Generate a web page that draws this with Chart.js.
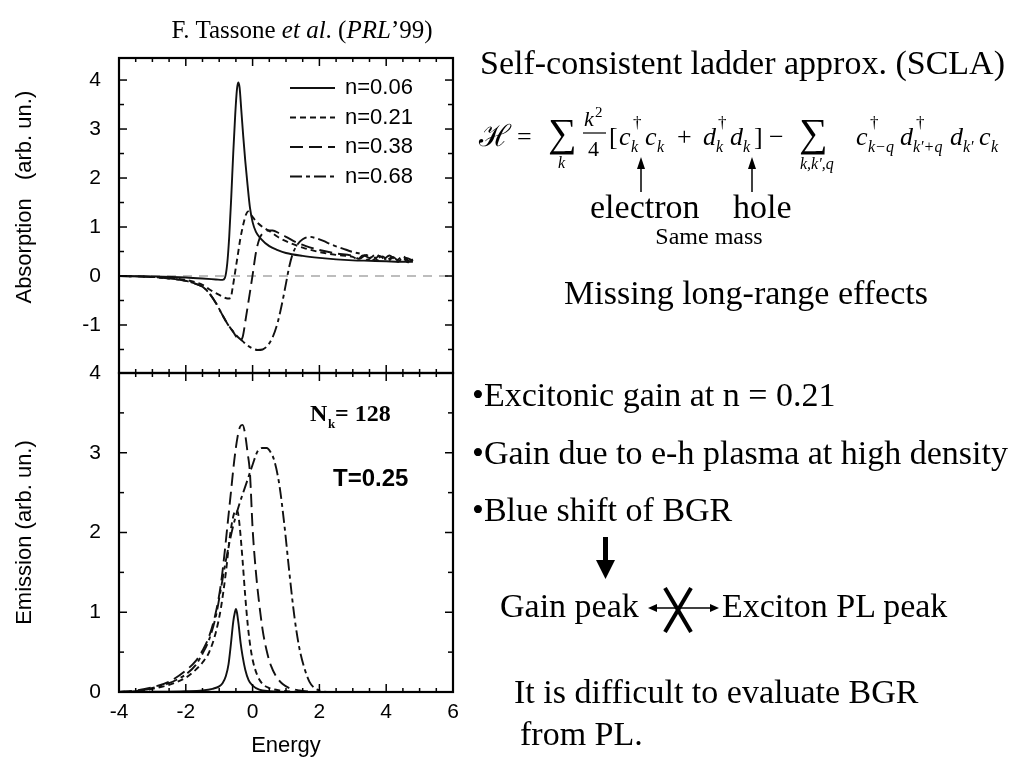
<!DOCTYPE html>
<html><head><meta charset="utf-8">
<script src="https://cdn.jsdelivr.net/npm/chart.js@4.4.0/dist/chart.umd.min.js"></script>
<style>
html,body{margin:0;padding:0;background:#fff;width:1024px;height:768px;overflow:hidden}
#c1{position:absolute;left:0;top:0}
#c2{position:absolute;left:0;top:360px}
svg{position:absolute;left:0;top:0}
</style></head><body>
<canvas id="c1" width="470" height="385"></canvas>
<canvas id="c2" width="470" height="408"></canvas>
<svg width="1024" height="768" xmlns="http://www.w3.org/2000/svg">
<g font-family="'Liberation Serif','Times New Roman',serif" fill="#000">
<text x="302" y="38" font-size="25" text-anchor="middle">F. Tassone <tspan font-style="italic">et al</tspan>. (<tspan font-style="italic">PRL</tspan>’99)</text>
<text x="480" y="74" font-size="34">Self-consistent ladder approx. (SCLA)</text>
<!-- equation -->
<text x="479" y="146" font-size="30">ℋ</text>
<text x="517" y="145" font-size="26">=</text>
<text x="548" y="146" font-size="40">∑</text>
<text x="558" y="168" font-size="16" font-style="italic">k</text>
<text x="584" y="126" font-size="22" font-style="italic">k</text>
<text x="595" y="117" font-size="15">2</text>
<line x1="583" y1="133" x2="606" y2="133" stroke="#000" stroke-width="1.2"/>
<text x="588" y="156" font-size="22">4</text>
<text x="609" y="145" font-size="26">[</text>
<text x="619" y="145" font-size="26" font-style="italic">c</text>
<text x="633" y="128" font-size="17">†</text>
<text x="631" y="152" font-size="16" font-style="italic">k</text>
<text x="645" y="145" font-size="26" font-style="italic">c</text>
<text x="657" y="152" font-size="16" font-style="italic">k</text>
<text x="677" y="145" font-size="26">+</text>
<text x="703" y="145" font-size="26" font-style="italic">d</text>
<text x="718" y="128" font-size="17">†</text>
<text x="716" y="152" font-size="16" font-style="italic">k</text>
<text x="730" y="145" font-size="26" font-style="italic">d</text>
<text x="743" y="152" font-size="16" font-style="italic">k</text>
<text x="754" y="145" font-size="26">]</text>
<text x="769" y="145" font-size="26">−</text>
<text x="799" y="146" font-size="40">∑</text>
<text x="800" y="169" font-size="16" font-style="italic">k,k′,q</text>
<text x="856" y="145" font-size="26" font-style="italic">c</text>
<text x="870" y="128" font-size="17">†</text>
<text x="868" y="152" font-size="16" font-style="italic">k−q</text>
<text x="900" y="145" font-size="26" font-style="italic">d</text>
<text x="916" y="128" font-size="17">†</text>
<text x="913" y="152" font-size="16" font-style="italic">k′+q</text>
<text x="950" y="145" font-size="26" font-style="italic">d</text>
<text x="963" y="152" font-size="16" font-style="italic">k′</text>
<text x="979" y="145" font-size="26" font-style="italic">c</text>
<text x="991" y="152" font-size="16" font-style="italic">k</text>
<line x1="641" y1="192" x2="641" y2="166" stroke="#000" stroke-width="1.5"/>
<polygon points="641,157 637,169 645,169"/>
<line x1="752" y1="192" x2="752" y2="166" stroke="#000" stroke-width="1.5"/>
<polygon points="752,157 748,169 756,169"/>
<text x="590" y="218" font-size="34">electron</text>
<text x="733" y="218" font-size="34">hole</text>
<text x="709" y="244" font-size="24" text-anchor="middle">Same mass</text>
<text x="746" y="304" font-size="34" text-anchor="middle">Missing long-range effects</text>
<text x="472" y="406" font-size="34">•Excitonic gain at n = 0.21</text>
<text x="472" y="464" font-size="34">•Gain due to e-h plasma at high density</text>
<text x="472" y="521" font-size="34">•Blue shift of BGR</text>
<rect x="603" y="537" width="5" height="24"/>
<polygon points="596,560 615,560 605.5,579"/>
<text x="500" y="617" font-size="34">Gain peak</text>
<line x1="655" y1="608" x2="712" y2="608" stroke="#000" stroke-width="1.5"/>
<polygon points="648,608 657,604 657,612"/>
<polygon points="719,608 710,604 710,612"/>
<line x1="665" y1="588" x2="691" y2="632" stroke="#000" stroke-width="4"/>
<line x1="691" y1="588" x2="665" y2="632" stroke="#000" stroke-width="4"/>
<text x="722" y="617" font-size="34">Exciton PL peak</text>
<text x="514" y="703" font-size="34">It is difficult to evaluate BGR</text>
<text x="520" y="745" font-size="34">from PL.</text>
<text x="310" y="421" font-size="24" font-weight="bold">N</text>
<text x="328" y="428" font-size="13" font-weight="bold">k</text>
<text x="335" y="421" font-size="24" font-weight="bold">= 128</text>
</g>
<text x="333" y="486" font-family="'Liberation Sans',Arial,sans-serif" font-size="24" font-weight="bold">T=0.25</text>
</svg>
<script>
// ---------- data ----------
const seriesLabels = ['n=0.06', 'n=0.21', 'n=0.38', 'n=0.68'];
const energyTicks = [-4, -2, 0, 2, 4, 6];
const absTicks = [-1, 0, 1, 2, 3, 4];
const emiTicks = [0, 1, 2, 3, 4];

// Absorption
const absX1 = [-4,-3,-2,-1.5,-1.1,-0.9,-0.83,-0.76,-0.7,-0.64,-0.58,-0.52,-0.47,-0.43,-0.39,-0.34,-0.28,-0.22,-0.15,-0.08,0,0.1,0.25,0.5,0.75,1,1.5,2,2.5,3,3.5,4,4.4,4.8];
const absY1 = [0,-0.01,-0.03,-0.05,-0.07,-0.08,-0.04,0.25,0.8,1.6,2.5,3.3,3.8,3.95,3.85,3.4,2.85,2.35,1.85,1.4,1.1,0.9,0.76,0.61,0.53,0.47,0.41,0.37,0.34,0.32,0.31,0.3,0.29,0.29];

const absX2 = [-4,-3,-2.5,-2,-1.7,-1.5,-1.3,-1.1,-0.9,-0.75,-0.66,-0.6,-0.53,-0.45,-0.37,-0.28,-0.2,-0.13,-0.05,0.1,0.3,0.5,0.75,1,1.5,2,2.5,3,3.15,3.3,3.45,3.6,3.75,3.9,4.05,4.2,4.35,4.5,4.65,4.8];
const absY2 = [0,-0.02,-0.04,-0.08,-0.13,-0.18,-0.27,-0.35,-0.42,-0.46,-0.45,-0.25,0.05,0.4,0.75,1.05,1.25,1.32,1.25,1.12,1.0,0.92,0.8,0.71,0.58,0.49,0.43,0.39,0.34,0.42,0.33,0.41,0.32,0.40,0.30,0.38,0.29,0.37,0.28,0.33];

const absX3 = [-4,-3,-2.5,-2,-1.7,-1.5,-1.3,-1.1,-0.9,-0.75,-0.6,-0.48,-0.38,-0.3,-0.2,-0.1,0,0.1,0.2,0.3,0.45,0.6,0.8,1,1.3,1.6,2,2.5,3,3.2,3.4,3.6,3.8,4.0,4.2,4.4,4.6,4.8];
const absY3 = [0,-0.02,-0.05,-0.1,-0.16,-0.22,-0.35,-0.55,-0.8,-0.98,-1.12,-1.25,-1.31,-1.25,-0.85,-0.42,0.02,0.48,0.75,0.87,0.93,0.93,0.87,0.8,0.69,0.61,0.53,0.46,0.41,0.35,0.43,0.33,0.41,0.32,0.39,0.29,0.37,0.31];

const absX4 = [-4,-3,-2.5,-2,-1.7,-1.5,-1.3,-1.1,-0.9,-0.75,-0.6,-0.45,-0.3,-0.15,0,0.15,0.3,0.45,0.6,0.75,0.9,1.0,1.1,1.2,1.35,1.5,1.7,1.9,2.1,2.4,2.7,3.0,3.3,3.5,3.7,3.9,4.1,4.3,4.5,4.7,4.8];
const absY4 = [0,-0.02,-0.05,-0.1,-0.16,-0.22,-0.35,-0.55,-0.8,-0.98,-1.12,-1.24,-1.33,-1.42,-1.48,-1.51,-1.5,-1.42,-1.25,-0.95,-0.5,-0.15,0.2,0.45,0.65,0.75,0.8,0.77,0.72,0.63,0.56,0.49,0.44,0.37,0.44,0.34,0.42,0.32,0.40,0.30,0.34];

const zeroX = [-4, 6];
const zeroY = [0, 0];

// Emission
const emiX1 = [-4,-3,-2,-1.5,-1.2,-1.0,-0.9,-0.8,-0.72,-0.65,-0.58,-0.53,-0.5,-0.47,-0.42,-0.36,-0.3,-0.22,-0.12,0,0.2,0.5,1,2];
const emiY1 = [0,0.003,0.01,0.02,0.04,0.07,0.11,0.2,0.35,0.6,0.88,1.0,1.04,1.0,0.85,0.62,0.45,0.28,0.15,0.08,0.03,0.01,0,0];

const emiX2 = [-4,-3.5,-3,-2.5,-2,-1.7,-1.5,-1.3,-1.1,-0.95,-0.8,-0.68,-0.58,-0.5,-0.44,-0.38,-0.3,-0.22,-0.14,-0.06,0.02,0.15,0.3,0.5,0.8,1.2,1.6];
const emiY2 = [0,0.01,0.04,0.09,0.18,0.28,0.37,0.5,0.75,1.05,1.5,1.95,2.2,2.28,2.25,2.05,1.65,1.2,0.82,0.55,0.37,0.2,0.1,0.05,0.02,0.005,0];

const emiX3 = [-4,-3.5,-3,-2.5,-2,-1.7,-1.5,-1.3,-1.1,-0.95,-0.85,-0.75,-0.65,-0.55,-0.45,-0.37,-0.3,-0.23,-0.15,-0.08,0,0.1,0.2,0.3,0.42,0.55,0.7,0.9,1.1,1.4,1.8];
const emiY3 = [0,0.02,0.06,0.13,0.27,0.39,0.52,0.7,1.0,1.35,1.7,2.1,2.5,2.9,3.2,3.33,3.35,3.25,3.0,2.75,2.05,1.5,1.1,0.78,0.52,0.33,0.2,0.1,0.05,0.02,0];

const emiX4 = [-4,-3.5,-3,-2.5,-2.2,-2,-1.7,-1.5,-1.3,-1.1,-1.0,-0.8,-0.6,-0.4,-0.2,0,0.15,0.3,0.42,0.55,0.65,0.8,0.95,1.1,1.25,1.4,1.55,1.7,1.85,2.0,2.3,2.6];
const emiY4 = [0,0.01,0.05,0.11,0.17,0.22,0.34,0.48,0.66,0.95,1.17,1.65,2.05,2.35,2.6,2.85,3.02,3.06,3.06,3.0,2.9,2.6,2.1,1.5,0.95,0.55,0.3,0.13,0.05,0.02,0,0];

// ---------- styles ----------
const dashes = [[], [6, 4], [13, 6], [12, 4, 4, 4]];
const SANS = "'Liberation Sans', Arial, sans-serif";

function pts(xs, ys) { return xs.map((v, i) => ({ x: v, y: ys[i] })); }
function curve(label, xs, ys, i) {
  return { label, data: pts(xs, ys), showLine: true, pointRadius: 0, borderColor: '#111',
    borderWidth: 1.9, borderDash: dashes[i], cubicInterpolationMode: 'monotone', fill: false };
}
function noPad(s) { s.paddingTop = 0; s.paddingBottom = 0; s.paddingLeft = 0; s.paddingRight = 0; }

const framePlugin = {
  id: 'frame',
  afterDatasetsDraw(chart) {
    const { ctx, chartArea: a, scales: { x, y } } = chart;
    ctx.save();
    ctx.strokeStyle = '#000';
    ctx.lineCap = 'butt';
    const ln = (x1, y1, x2, y2) => { ctx.beginPath(); ctx.moveTo(x1, y1); ctx.lineTo(x2, y2); ctx.stroke(); };
    ctx.lineWidth = 1.5;
    for (let k = Math.ceil(x.min * 2); k <= Math.floor(x.max * 2 + 1e-9); k++) {
      const v = k / 2, px = x.getPixelForValue(v);
      const L = (k % 4 === 0) ? 8 : 4;
      ln(px, a.bottom, px, a.bottom - L);
      ln(px, a.top, px, a.top + L);
    }
    for (let k = Math.ceil(y.min * 2 - 1e-9); k <= Math.floor(y.max * 2 + 1e-9); k++) {
      const v = k / 2, py = y.getPixelForValue(v);
      const L = (k % 2 === 0) ? 8 : 5;
      ln(a.left, py, a.left + L, py);
      ln(a.right, py, a.right - L, py);
    }
    ctx.lineWidth = 2.2;
    ctx.strokeRect(a.left, a.top, a.right - a.left, a.bottom - a.top);
    ctx.restore();
  }
};

const legendPlugin = {
  id: 'inlegend',
  afterDatasetsDraw(chart) {
    const { ctx, chartArea: a } = chart;
    ctx.save();
    ctx.font = '22px ' + SANS;
    ctx.fillStyle = '#000';
    ctx.textBaseline = 'middle';
    seriesLabels.forEach((lab, i) => {
      const ds = chart.data.datasets[i];
      const yy = a.top + 30 + i * 29.5;
      ctx.strokeStyle = ds.borderColor;
      ctx.lineWidth = ds.borderWidth;
      ctx.setLineDash(ds.borderDash);
      ctx.beginPath(); ctx.moveTo(a.left + 171, yy); ctx.lineTo(a.left + 216, yy); ctx.stroke();
      ctx.setLineDash([]);
      ctx.fillText(lab, a.left + 226, yy);
    });
    ctx.restore();
  }
};

const yTitleFont = { family: SANS, size: 22 };
const tickFont = { family: SANS, size: 21 };

new Chart(document.getElementById('c1'), {
  type: 'scatter',
  data: {
    datasets: [
      curve(seriesLabels[0], absX1, absY1, 0),
      curve(seriesLabels[1], absX2, absY2, 1),
      curve(seriesLabels[2], absX3, absY3, 2),
      curve(seriesLabels[3], absX4, absY4, 3),
      { label: 'zero', data: pts(zeroX, zeroY), showLine: true, pointRadius: 0, borderColor: '#a8a8a8', borderWidth: 1.5, borderDash: [9, 7] }
    ]
  },
  options: {
    responsive: false, animation: false, devicePixelRatio: 1,
    layout: { padding: { left: 0, top: 58, right: 17, bottom: 12 } },
    plugins: { legend: { display: false }, tooltip: { enabled: false } },
    scales: {
      x: { type: 'linear', min: -4, max: 6, display: false, afterFit: noPad },
      y: {
        type: 'linear', min: -1.98, max: 4.45,
        afterFit(s) { s.width = 119; noPad(s); },
        afterBuildTicks(s) { s.ticks = absTicks.map(v => ({ value: v })); },
        grid: { display: false, drawTicks: false }, border: { display: false },
        ticks: { font: tickFont, color: '#000', padding: 18 },
        title: { display: true, text: '      Absorption   (arb. un.)', font: yTitleFont, color: '#000', padding: { top: 12, bottom: 0 } }
      }
    }
  },
  plugins: [framePlugin, legendPlugin]
});

new Chart(document.getElementById('c2'), {
  type: 'scatter',
  data: {
    datasets: [
      curve(seriesLabels[0], emiX1, emiY1, 0),
      curve(seriesLabels[1], emiX2, emiY2, 1),
      curve(seriesLabels[2], emiX3, emiY3, 2),
      curve(seriesLabels[3], emiX4, emiY4, 3)
    ]
  },
  options: {
    responsive: false, animation: false, devicePixelRatio: 1,
    layout: { padding: { left: 0, top: 13, right: 17, bottom: 0 } },
    plugins: { legend: { display: false }, tooltip: { enabled: false } },
    scales: {
      x: {
        type: 'linear', min: -4, max: 6,
        afterFit(s) { s.height = 76; noPad(s); },
        afterBuildTicks(s) { s.ticks = energyTicks.map(v => ({ value: v })); },
        grid: { display: false, drawTicks: false }, border: { display: false },
        ticks: { font: tickFont, color: '#000', padding: 8, maxRotation: 0 },
        title: { display: true, text: 'Energy', font: yTitleFont, color: '#000', padding: { top: 0, bottom: 9 } }
      },
      y: {
        type: 'linear', min: 0, max: 4,
        afterFit(s) { s.width = 119; noPad(s); },
        afterBuildTicks(s) { s.ticks = emiTicks.map(v => ({ value: v })); },
        grid: { display: false, drawTicks: false }, border: { display: false },
        ticks: { font: tickFont, color: '#000', padding: 18 },
        title: { display: true, text: 'Emission (arb. un.)', font: yTitleFont, color: '#000', padding: { top: 12, bottom: 0 } }
      }
    }
  },
  plugins: [framePlugin]
});
</script>
</body></html>
